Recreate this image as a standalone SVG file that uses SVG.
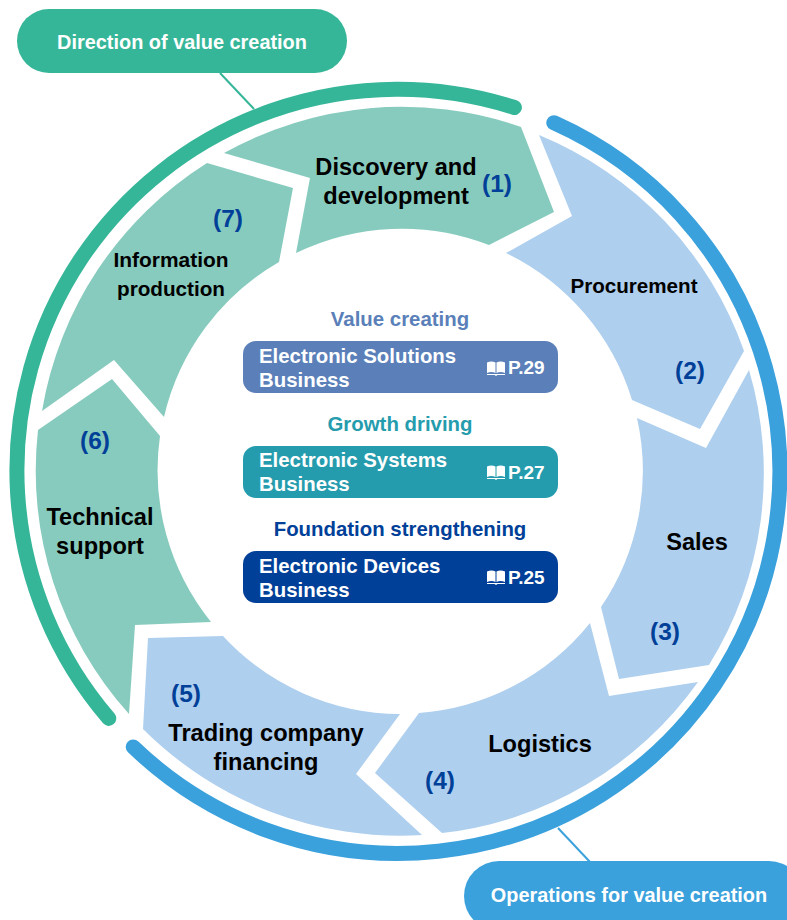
<svg xmlns="http://www.w3.org/2000/svg" width="787" height="920" viewBox="0 0 787 920">
<style>
text{font-family:"Liberation Sans",Arial,sans-serif;font-weight:700}
.l{font-size:23.6px;fill:#000;text-anchor:middle}
.s{font-size:21px;fill:#000;text-anchor:middle}
.n{font-size:24.5px;fill:#004098;text-anchor:middle}
.h{font-size:20.4px;text-anchor:middle}
.b{font-size:20.4px;fill:#fff}
.p{font-size:19px;fill:#fff}
.t{font-size:19.9px;fill:#fff;text-anchor:middle}
.g{fill:#87cbbe}.u{fill:#aecfee}
.rg{fill:none;stroke:#36b698;stroke-width:15;stroke-linecap:round}
.rb{fill:none;stroke:#3ba1dc;stroke-width:15;stroke-linecap:round}
.bk{fill:#fff}
</style>
<defs>
<g id="book"><path class="bk" d="M0 1.500 C3 0 6 0 8.500 1.500 V12 C6 10.500 3 10.500 0 12 Z M9.500 1.500 C12 0 15 0 18 1.500 V12 C15 10.500 12 10.500 9.500 12 Z M0 13 H18 V14 H10.500 L9 15 L7.500 14 H0 Z"/></g>
</defs>
<g id="connectors">
<path d="M220 73 L254 109" stroke="#36b698" stroke-width="2" fill="none"/>
<path d="M558 828 L590 862" stroke="#3ba1dc" stroke-width="2" fill="none"/>
</g>
<g id="ring-green"><path class="rg" d="M108.800 718.400 A381 381 0 0 1 514.400 107.500"/></g>
<g id="ring-blue"><path class="rb" d="M553.800 122.700 A382 382 0 1 1 133.200 746.900"/></g>
<g id="step1"><path class="g" d="M224 153 A364 364 0 0 1 521 127 L554 212 L489 245 A242 242 0 0 0 296 253 L310 178 Z"/>
<text class="l" x="396" y="175">Discovery and</text><text class="l" x="396" y="204">development</text><text class="n" x="497" y="192">(1)</text></g>
<g id="step2"><path class="u" d="M539 135 A364 364 0 0 1 744 351 L700 429 L632 400 A242 242 0 0 0 506 253 L572 216 Z"/>
<text class="s" x="634" y="293" textLength="127" lengthAdjust="spacingAndGlyphs">Procurement</text><text class="n" x="690" y="379">(2)</text></g>
<g id="step3"><path class="u" d="M749 370 A364 364 0 0 1 709 665 L619 679 L601 607 A242 242 0 0 0 637 418 L706 448 Z"/>
<text class="l" x="697" y="550">Sales</text><text class="n" x="665" y="640">(3)</text></g>
<g id="step4"><path class="u" d="M698 682 A364 364 0 0 1 442 833 L375 773 L419 713 A242 242 0 0 0 590 623 L609 696 Z"/>
<text class="l" x="540" y="752">Logistics</text><text class="n" x="440" y="789">(4)</text></g>
<g id="step5"><path class="u" d="M422 835 A364 364 0 0 1 143 729 L148 638 L223 636 A242 242 0 0 0 400 714 L356 774 Z"/>
<text class="l" x="266" y="741">Trading company</text><text class="l" x="266" y="770">financing</text><text class="n" x="186" y="702">(5)</text></g>
<g id="step6"><path class="g" d="M38 430 A364 364 0 0 0 129 714 L135 625 L211 622 A242 242 0 0 1 160 436 L112 379 Z"/>
<text class="l" x="100" y="525">Technical</text><text class="l" x="100" y="554">support</text><text class="n" x="95" y="449">(6)</text></g>
<g id="step7"><path class="g" d="M42 411 A364 364 0 0 1 207 163 L293 188 L279 262 A242 242 0 0 0 164 417 L114 360 Z"/>
<text class="s" x="171" y="267" textLength="115" lengthAdjust="spacingAndGlyphs">Information</text><text class="s" x="171" y="296" textLength="108" lengthAdjust="spacingAndGlyphs">production</text><text class="n" x="228" y="227">(7)</text></g>
<g id="value-creating"><text class="h" x="400" y="326" fill="#5a7fb9">Value creating</text>
<rect x="243" y="341" width="315" height="52" rx="13" fill="#5a7fb9"/>
<text class="b" x="259" y="363">Electronic Solutions</text><text class="b" x="259" y="387">Business</text>
<use href="#book" x="487" y="361"/><text class="p" x="508" y="374">P.29</text></g>
<g id="growth-driving"><text class="h" x="400" y="431" fill="#259cad">Growth driving</text>
<rect x="243" y="446" width="315" height="52" rx="13" fill="#259cad"/>
<text class="b" x="259" y="467">Electronic Systems</text><text class="b" x="259" y="491">Business</text>
<use href="#book" x="487" y="465"/><text class="p" x="508" y="479">P.27</text></g>
<g id="foundation"><text class="h" x="400" y="536" fill="#004098">Foundation strengthening</text>
<rect x="243" y="551" width="315" height="52" rx="13" fill="#004098"/>
<text class="b" x="259" y="573">Electronic Devices</text><text class="b" x="259" y="597">Business</text>
<use href="#book" x="487" y="570"/><text class="p" x="508" y="584">P.25</text></g>
<g id="label-direction"><rect x="17" y="9" width="330" height="64" rx="32" fill="#36b698"/><text class="t" x="182" y="49">Direction of value creation</text></g>
<g id="label-operations"><rect x="464" y="861" width="340" height="70" rx="35" fill="#3ba1dc"/><text class="t" x="629" y="902">Operations for value creation</text></g>
</svg>
